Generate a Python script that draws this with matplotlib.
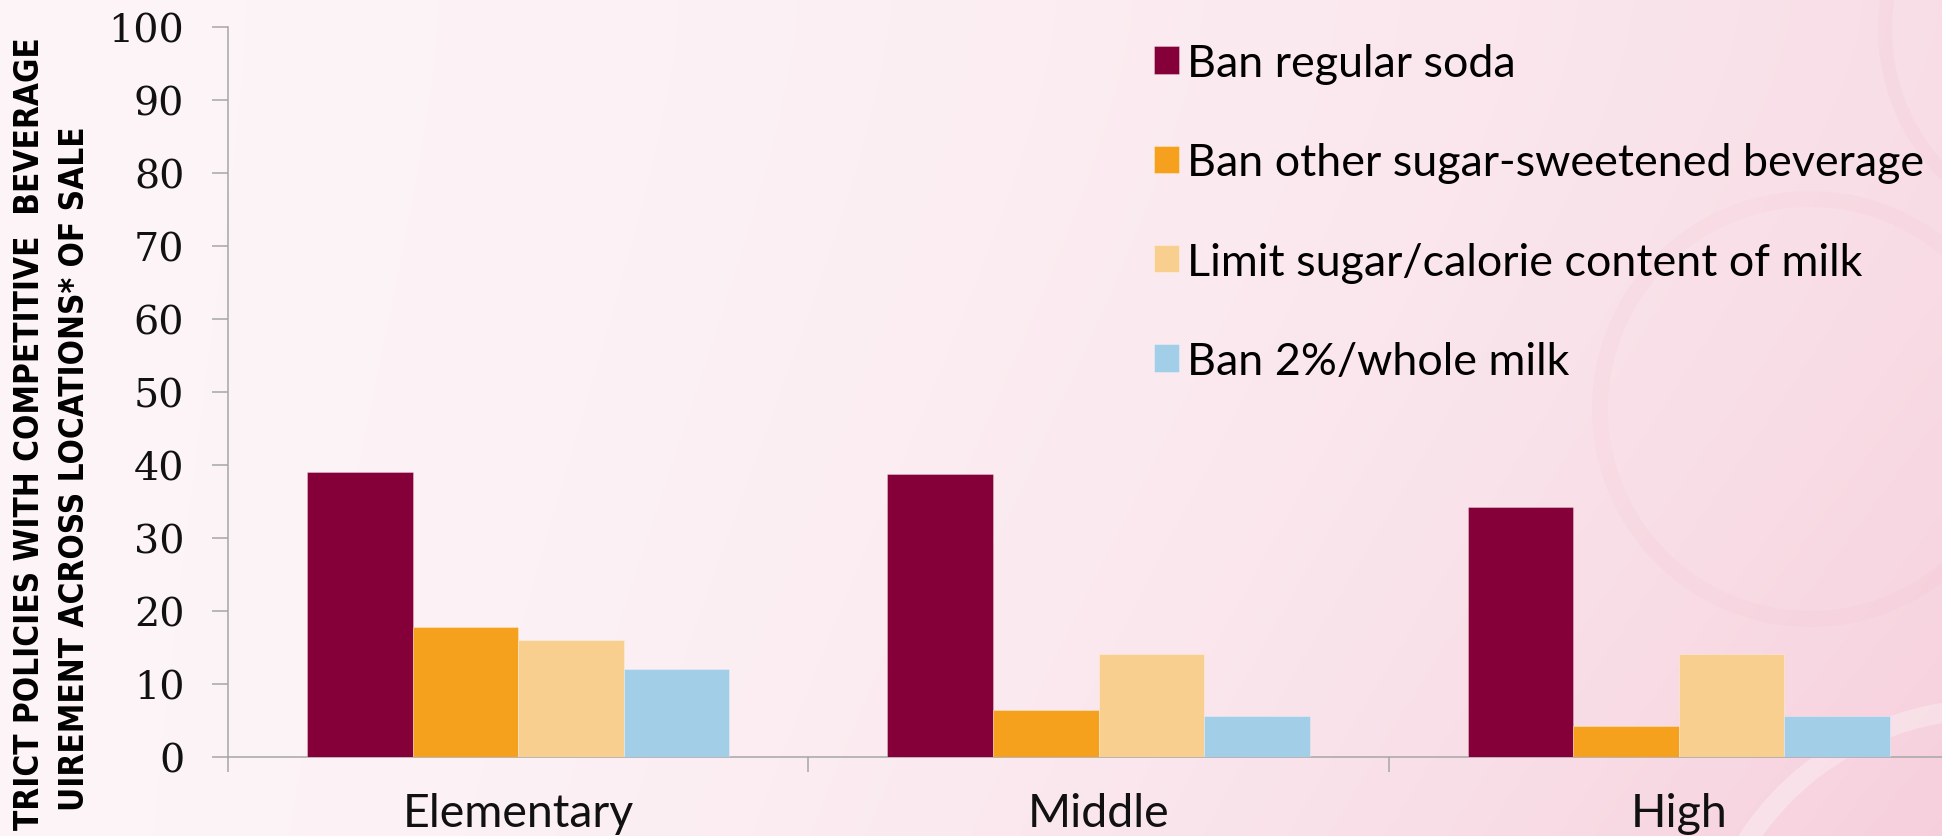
import numpy as np
import matplotlib
matplotlib.use("Agg")
import matplotlib.pyplot as plt
from matplotlib.patches import Circle

# school levels and share of district policies (%) per requirement
categories = ["Elementary", "Middle", "High"]
series_labels = [
    "Ban regular soda",
    "Ban other sugar-sweetened beverage",
    "Limit sugar/calorie content of milk",
    "Ban 2%/whole milk",
]
ban_soda = [39.0, 38.8, 34.2]
ban_other_ssb = [17.8, 6.5, 4.2]
limit_milk = [16.0, 14.1, 14.1]
ban_whole_milk = [12.1, 5.6, 5.6]
yticks = list(range(0, 101, 10))

ylabel_lines = [
    "TRICT POLICIES WITH COMPETITIVE  BEVERAGE",
    "UIREMENT ACROSS LOCATIONS* OF SALE",
]

COLORS = ["#850038", "#F5A11D", "#F9CF8F", "#A3CEE8"]
GREY = "#a6a6a6"
SANS = ["Lato", "DejaVu Sans"]
NARROW = ["Liberation Sans Narrow", "DejaVu Sans"]

W, H = 1942, 837
fig = plt.figure(figsize=(W / 100, H / 100), dpi=100)

# soft pink backdrop with faint rings
bg = fig.add_axes([0, 0, 1, 1], zorder=-10)
yy, xx = np.mgrid[0:1:200j, 0:1:400j]
w = np.clip(0.06 + 0.55 * xx ** 1.8 + 0.35 * (xx * yy) ** 1.5, 0, 1)
c0 = np.array([253, 247, 249]) / 255
c1 = np.array([246, 206, 219]) / 255
bg.imshow(c0 + (c1 - c0) * w[..., None], extent=[0, W, H, 0],
          aspect="auto", interpolation="bilinear")
bg.set_xlim(0, W)
bg.set_ylim(H, 0)
bg.axis("off")
rings = [
    (1810, 410, 210, 16, "#f2bfd0", 0.14),
    (2090, 30, 205, 14, "#f2bfd0", 0.18),
    (1990, 1000, 290, 20, "#ffffff", 0.3),
]
for cx, cy, r, lw, col, a in rings:
    bg.add_patch(Circle((cx, cy), r, fill=False, lw=lw * 0.72, ec=col, alpha=a))

ax = fig.add_axes([228 / W, (H - 758) / H, (1969 - 228) / W, (758 - 28) / H])
ax.patch.set_alpha(0)

x = np.arange(len(categories))
width = 1 / 5.5
series = [ban_soda, ban_other_ssb, limit_milk, ban_whole_milk]
handles = []
for i, (vals, col, lab) in enumerate(zip(series, COLORS, series_labels)):
    b = ax.bar(x + (i - 1.5) * width, vals, width, color=col, label=lab,
               edgecolor=(1, 1, 1, 0.35), linewidth=0.6, zorder=3)
    handles.append(b)

ax.set_xlim(-0.5, len(categories) - 0.5)
ax.set_ylim(0, 100)
for s in ["top", "right"]:
    ax.spines[s].set_visible(False)
for s in ["left", "bottom"]:
    ax.spines[s].set_color(GREY)
    ax.spines[s].set_linewidth(1.1)

ax.set_yticks(yticks)
ax.set_yticklabels([str(t) for t in yticks], family="DejaVu Serif",
                   fontsize=28.5, color="#111111")
ax.tick_params(axis="y", direction="out", length=11.5, width=1.1,
               color=GREY, pad=20)

ax.set_xticks(x)
ax.set_xticklabels(categories, family=SANS, fontsize=33.5, color="#111111")
ax.set_xticks(np.arange(len(categories) + 1) - 0.5, minor=True)
ax.tick_params(axis="x", which="major", length=0, pad=25)
ax.tick_params(axis="x", which="minor", direction="out", length=11,
               width=1.1, color=GREY)

# rotated two-line axis title, shrunk so the longer line fits the height
yl1 = fig.text(30 / W, 1 - 37 / H, ylabel_lines[0], rotation=90, ha="center",
               va="top", fontsize=26, fontweight="bold", family=NARROW,
               fontstretch="condensed")
yl2 = fig.text(75 / W, 1 - 126 / H, ylabel_lines[1], rotation=90, ha="center",
               va="top", fontsize=26, fontweight="bold", family=NARROW,
               fontstretch="condensed")
fig.canvas.draw()
fs = 26 * min(1.0, (H - 37 - 6) / yl1.get_window_extent().height)
yl1.set_fontsize(fs)
yl2.set_fontsize(fs)

fig.legend(handles, series_labels, loc="upper left",
           bbox_to_anchor=(1154 / W, 1 - 44 / H), frameon=False,
           prop={"family": SANS, "size": 32.3},
           handlelength=0.56, handleheight=0.56, handletextpad=0.17,
           labelspacing=1.3, borderpad=0, borderaxespad=0)

fig.savefig("out.png", dpi=100)
